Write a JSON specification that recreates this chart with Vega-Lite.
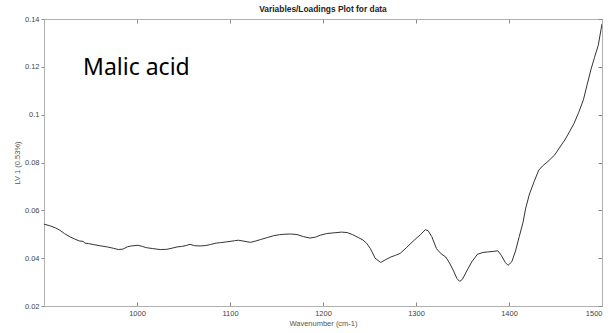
{
  "$schema": "https://vega.github.io/schema/vega-lite/v6.json",
  "autosize": {"type": "none"},
  "width": 558,
  "height": 287,
  "padding": {"left": 44, "top": 19, "right": 9, "bottom": 27},
  "background": "white",
  "title": {"text": "Variables/Loadings Plot for data", "fontSize": 8.4, "fontWeight": "bold", "font": "Liberation Sans", "color": "#222", "offset": 2, "anchor": "middle"},
  "config": {
    "view": {"stroke": null},
    "axis": {"grid": false, "domainColor": "#b0b0b0", "tickColor": "#888", "labelColor": "#444", "titleColor": "#555", "labelFont": "Liberation Sans", "titleFont": "Liberation Sans", "labelFontSize": 7.5, "titleFontSize": 7.5, "titleFontWeight": "normal"}
  },
  "resolve": {"axis": {"x": "independent", "y": "independent"}},
  "layer": [
    {
      "data": {"values": [
        {"wavenumber": 900, "loading": 0.0542},
        {"wavenumber": 906, "loading": 0.0536},
        {"wavenumber": 912, "loading": 0.0527},
        {"wavenumber": 917, "loading": 0.0517},
        {"wavenumber": 922, "loading": 0.0503},
        {"wavenumber": 928, "loading": 0.0489},
        {"wavenumber": 933, "loading": 0.0480},
        {"wavenumber": 938, "loading": 0.0472},
        {"wavenumber": 942, "loading": 0.0470},
        {"wavenumber": 944, "loading": 0.0463},
        {"wavenumber": 948, "loading": 0.0461},
        {"wavenumber": 953, "loading": 0.0457},
        {"wavenumber": 960, "loading": 0.0452},
        {"wavenumber": 968, "loading": 0.0447},
        {"wavenumber": 975, "loading": 0.0441},
        {"wavenumber": 980, "loading": 0.0436},
        {"wavenumber": 985, "loading": 0.0438},
        {"wavenumber": 990, "loading": 0.0448},
        {"wavenumber": 994, "loading": 0.0451},
        {"wavenumber": 1001, "loading": 0.0454},
        {"wavenumber": 1006, "loading": 0.0449},
        {"wavenumber": 1010, "loading": 0.0444},
        {"wavenumber": 1017, "loading": 0.0440},
        {"wavenumber": 1025, "loading": 0.0436},
        {"wavenumber": 1032, "loading": 0.0437},
        {"wavenumber": 1038, "loading": 0.0442},
        {"wavenumber": 1043, "loading": 0.0447},
        {"wavenumber": 1048, "loading": 0.0449},
        {"wavenumber": 1053, "loading": 0.0453},
        {"wavenumber": 1057, "loading": 0.0458},
        {"wavenumber": 1062, "loading": 0.0452},
        {"wavenumber": 1068, "loading": 0.0451},
        {"wavenumber": 1074, "loading": 0.0453},
        {"wavenumber": 1079, "loading": 0.0457},
        {"wavenumber": 1085, "loading": 0.0463},
        {"wavenumber": 1090, "loading": 0.0465},
        {"wavenumber": 1096, "loading": 0.0468},
        {"wavenumber": 1100, "loading": 0.0470},
        {"wavenumber": 1105, "loading": 0.0473},
        {"wavenumber": 1109, "loading": 0.0475},
        {"wavenumber": 1115, "loading": 0.0471},
        {"wavenumber": 1122, "loading": 0.0466},
        {"wavenumber": 1127, "loading": 0.0471},
        {"wavenumber": 1133, "loading": 0.0478},
        {"wavenumber": 1140, "loading": 0.0486},
        {"wavenumber": 1147, "loading": 0.0494},
        {"wavenumber": 1153, "loading": 0.0498},
        {"wavenumber": 1158, "loading": 0.0500},
        {"wavenumber": 1165, "loading": 0.0501},
        {"wavenumber": 1172, "loading": 0.0499},
        {"wavenumber": 1179, "loading": 0.0490},
        {"wavenumber": 1186, "loading": 0.0484},
        {"wavenumber": 1192, "loading": 0.0488},
        {"wavenumber": 1197, "loading": 0.0496},
        {"wavenumber": 1204, "loading": 0.0503},
        {"wavenumber": 1212, "loading": 0.0506},
        {"wavenumber": 1220, "loading": 0.0509},
        {"wavenumber": 1226, "loading": 0.0507},
        {"wavenumber": 1232, "loading": 0.0498},
        {"wavenumber": 1238, "loading": 0.0486},
        {"wavenumber": 1243, "loading": 0.0476},
        {"wavenumber": 1247, "loading": 0.0462},
        {"wavenumber": 1251, "loading": 0.0440},
        {"wavenumber": 1256, "loading": 0.0400},
        {"wavenumber": 1262, "loading": 0.0382},
        {"wavenumber": 1267, "loading": 0.0393},
        {"wavenumber": 1273, "loading": 0.0405},
        {"wavenumber": 1278, "loading": 0.0412},
        {"wavenumber": 1283, "loading": 0.0420},
        {"wavenumber": 1290, "loading": 0.0445},
        {"wavenumber": 1298, "loading": 0.0475},
        {"wavenumber": 1305, "loading": 0.0499},
        {"wavenumber": 1310, "loading": 0.0519},
        {"wavenumber": 1313, "loading": 0.0515},
        {"wavenumber": 1317, "loading": 0.0490},
        {"wavenumber": 1322, "loading": 0.0440},
        {"wavenumber": 1327, "loading": 0.0418},
        {"wavenumber": 1332, "loading": 0.0405},
        {"wavenumber": 1336, "loading": 0.0380},
        {"wavenumber": 1340, "loading": 0.0350},
        {"wavenumber": 1344, "loading": 0.0315},
        {"wavenumber": 1347, "loading": 0.0303},
        {"wavenumber": 1350, "loading": 0.0312},
        {"wavenumber": 1354, "loading": 0.0342},
        {"wavenumber": 1360, "loading": 0.0385},
        {"wavenumber": 1366, "loading": 0.0416},
        {"wavenumber": 1372, "loading": 0.0424},
        {"wavenumber": 1377, "loading": 0.0426},
        {"wavenumber": 1383, "loading": 0.0428},
        {"wavenumber": 1388, "loading": 0.0431},
        {"wavenumber": 1392, "loading": 0.0410},
        {"wavenumber": 1396, "loading": 0.0382},
        {"wavenumber": 1399, "loading": 0.0370},
        {"wavenumber": 1403, "loading": 0.0385},
        {"wavenumber": 1407, "loading": 0.0430},
        {"wavenumber": 1411, "loading": 0.0490},
        {"wavenumber": 1415, "loading": 0.0548},
        {"wavenumber": 1418, "loading": 0.0610},
        {"wavenumber": 1422, "loading": 0.0668},
        {"wavenumber": 1427, "loading": 0.0720},
        {"wavenumber": 1432, "loading": 0.0768},
        {"wavenumber": 1436, "loading": 0.0785},
        {"wavenumber": 1442, "loading": 0.0805},
        {"wavenumber": 1449, "loading": 0.0831},
        {"wavenumber": 1454, "loading": 0.0860},
        {"wavenumber": 1460, "loading": 0.0894},
        {"wavenumber": 1465, "loading": 0.0928},
        {"wavenumber": 1470, "loading": 0.0964},
        {"wavenumber": 1475, "loading": 0.1010},
        {"wavenumber": 1480, "loading": 0.1062},
        {"wavenumber": 1484, "loading": 0.1125},
        {"wavenumber": 1488, "loading": 0.1187},
        {"wavenumber": 1492, "loading": 0.1240},
        {"wavenumber": 1496, "loading": 0.1290},
        {"wavenumber": 1500, "loading": 0.1380}
      ]},
      "mark": {"type": "line", "color": "#333", "strokeWidth": 1, "clip": true},
      "encoding": {
        "x": {"field": "wavenumber", "type": "quantitative", "scale": {"domain": [900, 1500], "nice": false, "zero": false},
              "axis": {"orient": "bottom", "values": [1000, 1100, 1200, 1300, 1400, 1500], "format": "d", "title": "Wavenumber (cm-1)", "tickSize": -4, "labelPadding": 7, "titlePadding": 3}},
        "y": {"field": "loading", "type": "quantitative", "scale": {"domain": [0.02, 0.14], "nice": false, "zero": false},
              "axis": {"orient": "left", "values": [0.02, 0.04, 0.06, 0.08, 0.1, 0.12, 0.14], "format": "~g", "title": "LV 1 (0.53%)", "tickSize": 3, "labelPadding": 2, "titlePadding": 3}}
      }
    },
    {
      "data": {"values": [{"label": "Malic acid"}]},
      "mark": {"type": "text", "align": "left", "baseline": "alphabetic", "font": "Noto Sans", "fontSize": 23, "color": "#000"},
      "encoding": {
        "x": {"datum": 942, "type": "quantitative",
              "axis": {"orient": "top", "values": [1000, 1100, 1200, 1300, 1400, 1500], "labels": false, "title": null, "tickSize": -4}},
        "y": {"datum": 0.1166, "type": "quantitative",
              "axis": {"orient": "right", "values": [0.02, 0.04, 0.06, 0.08, 0.1, 0.12, 0.14], "labels": false, "title": null, "tickSize": -4}},
        "text": {"field": "label"}
      }
    }
  ]
}
